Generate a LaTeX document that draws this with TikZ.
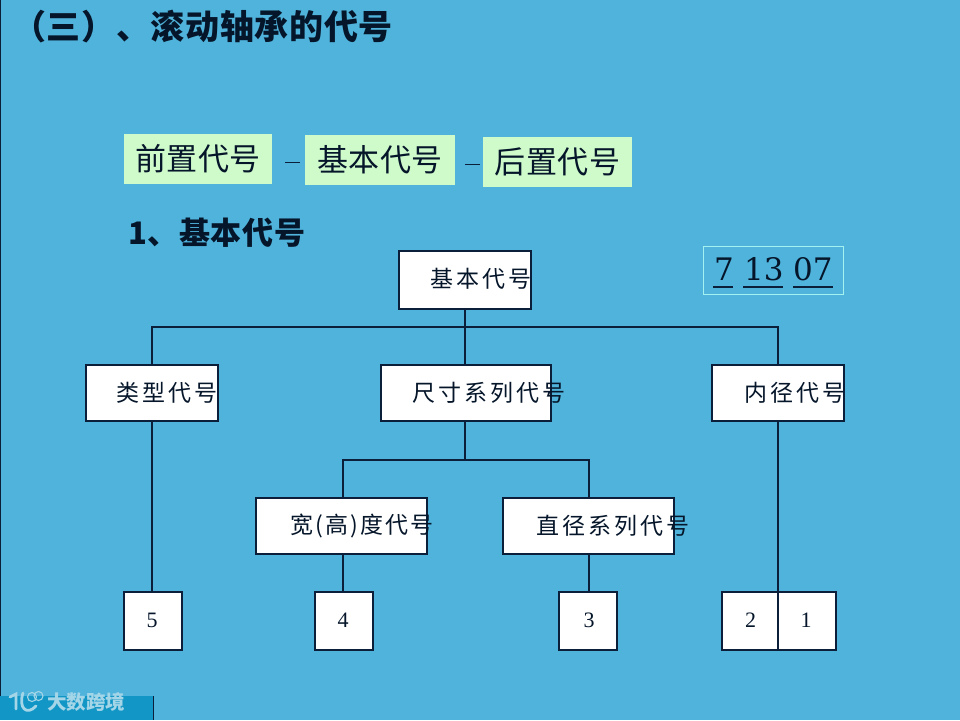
\documentclass[tikz,border=0pt]{standalone}
\usepackage{fontspec}
\setmainfont{Liberation Serif}
\newfontfamily\cjk[LetterSpace=13]{Noto Sans CJK SC}
\newfontfamily\cjktight[LetterSpace=9]{Noto Sans CJK SC}
\newfontfamily\cjkhd[LetterSpace=2]{Noto Sans CJK SC}
\newfontfamily\cjkwm{Noto Sans CJK SC}
\newfontfamily\digitfont{DejaVu Serif}
\definecolor{bgblue}{HTML}{4FB3DC}
\definecolor{strip}{HTML}{1296C6}
\definecolor{navy}{HTML}{0B1F3A}
\definecolor{ink}{HTML}{06162A}
\definecolor{mint}{HTML}{CFFBCB}
\definecolor{frameline}{HTML}{A4F2F0}
\definecolor{wmcol}{HTML}{A5D6E8}
\tikzset{
  x=1pt,y=-1pt,
  box/.style={draw=navy,line width=1.8pt,fill=white,minimum width=#1,inner sep=0pt,outer sep=0pt,anchor=north west},
  wire/.style={draw=navy,line width=1.6pt},
  boxtext/.style={anchor=west,inner sep=0pt,font=\fontsize{23}{23}\selectfont\cjk,text=ink},
  num/.style={inner sep=0pt,font=\fontsize{22}{22}\selectfont,text=ink},
  pill/.style={fill=mint,inner sep=0pt,outer sep=0pt,anchor=north west},
  pilltext/.style={inner sep=0pt,font=\fontsize{31}{31}\selectfont\cjkhd,text=ink},
  head/.style={anchor=west,inner sep=0pt,font=\fontsize{31}{31}\selectfont\cjkhd\bfseries,text=ink},
  titlehead/.style={head,font=\fontsize{34}{34}\selectfont\cjkhd\bfseries},
  digit/.style={inner sep=0pt,anchor=base west,font=\fontsize{31}{31}\selectfont\digitfont,text=ink},
  dashmark/.style={draw=navy,line width=1pt},
  wmline/.style={draw=wmcol,line cap=round}
}
\begin{document}
\begin{tikzpicture}
\useasboundingbox (0,0) rectangle (960,720);
\fill[bgblue] (0,0) rectangle (960,720);
\fill[navy] (0,0) rectangle (1,720);
\fill[strip] (0,696) rectangle (153,720);
\draw[navy,line width=0.8pt] (153,696) -- (153,720);

% title
\node[titlehead] (title) at (12,27) {（三）、滚动轴承的代号};

% top row
\node[pill,minimum width=148pt,minimum height=50pt] (pre) at (124,134) {};
\node[pill,minimum width=150pt,minimum height=50pt] (base) at (305,135) {};
\node[pill,minimum width=149pt,minimum height=50pt] (post) at (483,137) {};
\node[pilltext] (pret) at (pre.center) {前置代号};
\node[pilltext] (baset) at (base.center) {基本代号};
\node[pilltext] (postt) at (post.center) {后置代号};
\coordinate (d1a) at (285,162); \coordinate (d1b) at (300,162);
\coordinate (d2a) at (465,164); \coordinate (d2b) at (480,164);
\draw[dashmark] (d1a) -- (d1b);
\draw[dashmark] (d2a) -- (d2b);

\node[head] (sub) at (128,233) {1、基本代号};

% example code
\node[draw=frameline,line width=1pt,outer sep=0pt,minimum width=140pt,minimum height=48pt,inner sep=0pt,anchor=north west] (frame) at (703.5,246) {};
\node[digit] (n7) at (714,280.5) {7};
\node[digit] (n13) at (744,280.5) {13};
\node[digit] (n07) at (793,280.5) {07};
\coordinate (u1a) at (713,286.5); \coordinate (u1b) at (733,286.5);
\coordinate (u2a) at (743,286.5); \coordinate (u2b) at (783,286.5);
\coordinate (u3a) at (793,286.5); \coordinate (u3b) at (833,286.5);
\draw[navy,line width=2pt] (u1a) -- (u1b) (u2a) -- (u2b) (u3a) -- (u3b);

% junctions
\coordinate (jt) at (465,327);
\coordinate (jl) at (152,327);
\coordinate (jr) at (778,327);
\coordinate (jm) at (465,460);
\coordinate (jml) at (343,460);
\coordinate (jmr) at (589,460);

\node[box=132pt,minimum height=58pt] (root) at (399,251) {};
\node[box=132pt,minimum height=56pt] (type) at (86,365) {};
\node[box=170pt,minimum height=56pt] (size) at (381,365) {};
\node[box=132pt,minimum height=56pt] (bore) at (712,365) {};
\node[box=171pt,minimum height=56pt] (width) at (256,498) {};
\node[box=171pt,minimum height=56pt] (dia) at (503,498) {};
\node[box=58pt,minimum height=58pt] (d5) at (124,592) {};
\node[box=58pt,minimum height=58pt] (d4) at (315,592) {};
\node[box=58pt,minimum height=58pt] (d3) at (559,592) {};
\node[box=114pt,minimum height=58pt] (d21) at (722,592) {};

\draw[wire] (root.south -| jt) -- (jt);
\draw[wire] (jl |- type.north) -- (jl) -- (jr) -- (jr |- bore.north);
\draw[wire] (jt) -- (jt |- size.north);
\draw[wire] (jm |- size.south) -- (jm);
\draw[wire] (jml |- width.north) -- (jml) -- (jmr) -- (jmr |- dia.north);
\draw[wire] (jl |- type.south) -- (jl |- d5.north);
\draw[wire] (jml |- width.south) -- (jml |- d4.north);
\draw[wire] (jmr |- dia.south) -- (jmr |- d3.north);
\draw[wire] (jr |- bore.south) -- (jr |- d21.south);

\node[boxtext] (roott) at (430,278.5) {基本代号};
\node[boxtext] (typet) at (116,392.5) {类型代号};
\node[boxtext] (sizet) at (412,392.5) {尺寸系列代号};
\node[boxtext] (boret) at (744,392.5) {内径代号};
\node[boxtext,font=\fontsize{23}{23}\selectfont\cjktight] (widtht) at (290,525.5) {宽(高)度代号};
\node[boxtext] (diat) at (536,525.5) {直径系列代号};

\node[num] (t5) at (152,620) {5};
\node[num] (t4) at (343,620) {4};
\node[num] (t3) at (589,620) {3};
\node[num] (t2) at (750.5,620) {2};
\node[num] (t1) at (806,620) {1};

% watermark
\draw[wmline,line width=2.8pt] (10,697) -- (16,694) -- (16,709);
\draw[wmline,line width=2.8pt] (23,693) .. controls (18,708) and (27,716) .. (36,706);
\draw[wmline,line width=1.1pt] (32,697) circle[radius=4.5];
\draw[wmline,line width=1.1pt] (38.5,696) circle[radius=4.5];
\node[inner sep=0pt,anchor=west,font=\fontsize{19.5}{20}\selectfont\cjkwm\bfseries,text=wmcol] (wm) at (47,702.5) {大数跨境};
\end{tikzpicture}
\end{document}
